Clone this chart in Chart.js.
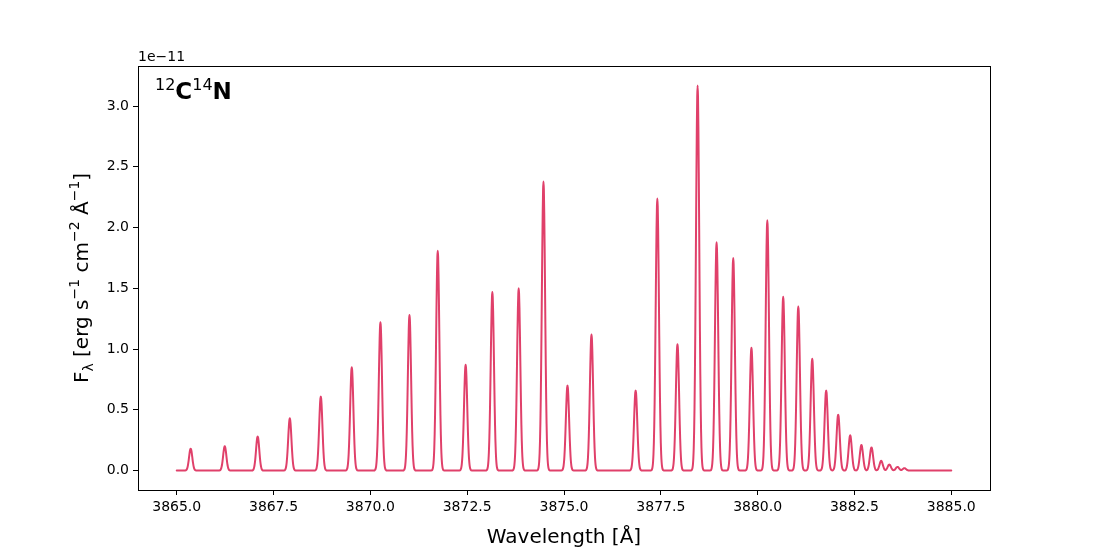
<!DOCTYPE html>
<html><head><meta charset="utf-8">
<script src="https://cdn.jsdelivr.net/npm/chart.js@4"></script>
<style>body{margin:0;background:#fff}#w{width:1100px;height:550px}</style>
</head><body><div id="w"><canvas id="c"></canvas></div>
<script>
// Line list (centre in Å, peak height in units of 1e-11)
const lineCenters = [3865.36,3866.24,3867.09,3867.92,3868.72,3869.52,3870.26,3871.01,3871.74,3872.46,3873.15,3873.83,3874.47,3875.09,3875.71,3876.85,3877.41,3877.93,3878.45,3878.94,3879.37,3879.84,3880.25,3880.66,3881.05,3881.41,3881.77,3882.08,3882.39,3882.68,3882.94,3883.19,3883.40,3883.61,3883.79];
const lineHeights = [0.18,0.20,0.28,0.43,0.61,0.85,1.22,1.28,1.81,0.87,1.47,1.50,2.38,0.70,1.12,0.66,2.24,1.04,3.17,1.88,1.75,1.01,2.06,1.43,1.35,0.92,0.66,0.46,0.29,0.21,0.19,0.08,0.05,0.03,0.02];
const xTicks = [3865.0,3867.5,3870.0,3872.5,3875.0,3877.5,3880.0,3882.5,3885.0];
const yTicks = [0.0,0.5,1.0,1.5,2.0,2.5,3.0];
const waveStart = 3865, waveEnd = 3885, waveStep = 0.01, sigma = 0.042;

const pts = [];
for (let i = 0; i <= Math.round((waveEnd-waveStart)/waveStep); i++) {
  const x = waveStart + i*waveStep;
  let y = 0;
  for (let k = 0; k < lineCenters.length; k++) {
    const d = (x-lineCenters[k])/sigma;
    y += lineHeights[k]*Math.exp(-0.5*d*d);
  }
  pts.push({x, y});
}
const F = 'DejaVu Sans';
const deco = {
  id:'deco',
  afterDraw(ch){
    const c = ch.ctx, a = ch.chartArea;
    c.save();
    c.strokeStyle='#000'; c.lineWidth=1;
    c.strokeRect(a.left+0.5,a.top+0.5,a.right-a.left,a.bottom-a.top);
    c.fillStyle='#000';
    c.font=`14px ${F}`; c.textBaseline='alphabetic'; c.textAlign='left';
    c.fillText('1e\u221211',138,61);
    let x=155, yb=99;
    c.font=`16px ${F}`; c.fillText('12',x,yb-9); x+=c.measureText('12').width;
    c.font=`bold 23px ${F}`; c.fillText('C',x,yb); x+=c.measureText('C').width;
    c.font=`16px ${F}`; c.fillText('14',x,yb-9); x+=c.measureText('14').width;
    c.font=`bold 23px ${F}`; c.fillText('N',x,yb);
    c.font=`20px ${F}`; c.textAlign='center';
    c.fillText('Wavelength [\u00c5]',(a.left+a.right)/2,543);
    c.translate(88,(a.top+a.bottom)/2); c.rotate(-Math.PI/2);
    const parts=[['F',20,0],['\u03bb',14,5],[' [erg s',20,0],['\u22121',14,-9],[' cm',20,0],['\u22122',14,-9],[' \u00c5',20,0],['\u22121',14,-9],[']',20,0]];
    let tw=0; parts.forEach(p=>{c.font=`${p[1]}px ${F}`;tw+=c.measureText(p[0]).width;});
    let px=-tw/2; c.textAlign='left';
    parts.forEach(p=>{c.font=`${p[1]}px ${F}`;c.fillText(p[0],px,p[2]);px+=c.measureText(p[0]).width;});
    c.restore();
  }
};
new Chart(document.getElementById('c'),{
  type:'line',
  data:{datasets:[{data:pts,borderColor:'#e0406a',borderWidth:2,borderJoinStyle:'round',borderCapStyle:'round',pointRadius:0,fill:false,cubicInterpolationMode:'monotone'}]},
  options:{
    responsive:true,maintainAspectRatio:false,animation:false,
    layout:{padding:{top:66,right:110,left:0,bottom:0}},
    plugins:{legend:{display:false},tooltip:{enabled:false}},
    scales:{
      x:{type:'linear',min:3864,max:3886,
        afterBuildTicks:s=>{s.ticks=xTicks.map(v=>({value:v}));},
        afterFit:s=>{s.height=60;},
        grid:{drawOnChartArea:false,drawTicks:true,tickLength:5,color:'#000'},
        border:{display:false},
        ticks:{color:'#000',font:{family:F,size:14},padding:4,maxRotation:0,callback:v=>v.toFixed(1)}},
      y:{type:'linear',min:-0.16,max:3.33,
        afterBuildTicks:s=>{s.ticks=yTicks.map(v=>({value:v}));},
        afterFit:s=>{s.width=138;},
        grid:{drawOnChartArea:false,drawTicks:true,tickLength:5,color:'#000'},
        border:{display:false},
        ticks:{color:'#000',font:{family:F,size:14},padding:4,callback:v=>v.toFixed(1)}}
    }
  },
  plugins:[deco]
});
</script></body></html>
